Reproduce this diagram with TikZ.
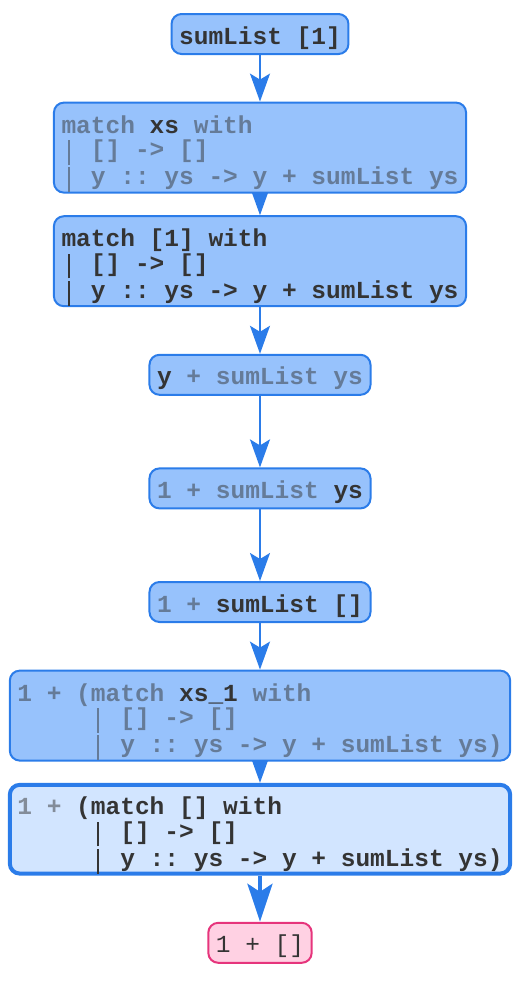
\documentclass[tikz,border=0pt]{standalone}
\usepackage{fontspec}
\newfontfamily\codefont{Liberation Mono}
\usetikzlibrary{arrows.meta,positioning,backgrounds}
\frenchspacing

\definecolor{nodefill}{HTML}{97C2FC}
\definecolor{nodeline}{HTML}{2B7CE9}
\definecolor{hlfill}{HTML}{D2E5FF}
\definecolor{donefill}{HTML}{FFD1E3}
\definecolor{doneline}{HTML}{E6357C}
\definecolor{codetext}{HTML}{343434}
\definecolor{fadetext}{HTML}{657B98}
\definecolor{fadehltext}{HTML}{838C99}

\newcommand{\fadetxt}[1]{\textcolor{fadetext}{#1}}
\newcommand{\fadehl}[1]{\textcolor{fadehltext}{#1}}
\newcommand{\codebar}{\makebox[0.6em]{\rule[-0.3em]{0.1em}{1em}}}
\newcommand{\rowstrut}{\rule{0pt}{14.9pt}}

\begin{document}
\begin{tikzpicture}[>={Stealth[length=14pt,width=10pt,inset=3pt]},node distance=56.8pt,
  evalstep/.style={draw=nodeline,fill=nodefill,line width=1pt,rounded corners=5pt,
    inner xsep=3.8pt,inner ysep=0pt,minimum height=20pt,align=left,text=codetext,
    text height=13.1pt,text depth=3pt,
    font=\codefont\bfseries\fontsize{12.25}{12.25}\selectfont},
  threeline/.style={minimum height=45pt,text height=,text depth=},
  current/.style={fill=hlfill,line width=2pt,minimum height=44pt},
  result/.style={evalstep,draw=doneline,fill=donefill,
    font=\codefont\fontsize{12.25}{12.25}\selectfont}]
\useasboundingbox (-130pt,17pt) rectangle (130pt,-474pt);
% define the evaluation steps
  \node[evalstep]           (s1)                {sumList [1]};
  \node[evalstep,threeline] (s2) [below of=s1]  {\rowstrut\fadetxt{match} xs \fadetxt{with}\\
                                                 \fadetxt{\codebar{} [] -> []}\\
                                                 \fadetxt{\codebar{} y :: ys -> y + sumList ys}};
  \node[evalstep,threeline] (s3) [below of=s2]  {\rowstrut match [1] with\\
                                                 \codebar{} [] -> []\\
                                                 \codebar{} y :: ys -> y + sumList ys};
  \node[evalstep]           (s4) [below of=s3]  {y \fadetxt{+ sumList ys}};
  \node[evalstep]           (s5) [below of=s4]  {\fadetxt{1 + sumList} ys};
  \node[evalstep]           (s6) [below of=s5]  {\fadetxt{1 +} sumList []};
  \node[evalstep,threeline] (s7) [below of=s6]  {\rowstrut\fadetxt{1 + (match} xs\_1 \fadetxt{with}\\
                                                 \phantom{1 + (}\fadetxt{\codebar{} [] -> []}\\
                                                 \phantom{1 + (}\fadetxt{\codebar{} y :: ys -> y + sumList ys)}};
  \node[evalstep,threeline,current] (s8) [below of=s7] {\rowstrut\fadehl{1 +} (match [] with\\
                                                 \phantom{1 + (}\codebar{} [] -> []\\
                                                 \phantom{1 + (}\codebar{} y :: ys -> y + sumList ys)};
  \node[result]             (s9) [below of=s8]  {1 + []};

% define the links
\begin{scope}[on background layer]
  \path[->,color=nodeline,line width=1pt]
        (s1) edge (s2)
        (s2) edge (s3)
        (s3) edge (s4)
        (s4) edge (s5)
        (s5) edge (s6)
        (s6) edge (s7)
        (s7) edge (s8);
  \path[-{Stealth[length=19pt,width=12.5pt,inset=4pt]},color=nodeline,line width=2pt]
        (s8) edge (s9);
\end{scope}
\end{tikzpicture}
\end{document}
